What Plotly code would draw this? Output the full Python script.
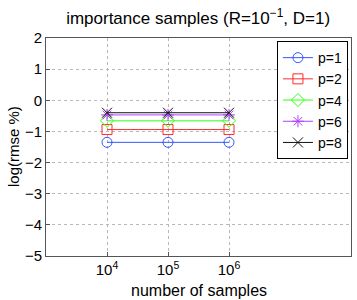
import plotly.graph_objects as go

samples = [1e4, 1e5, 1e6]
series_names = ["p=1", "p=2", "p=4", "p=6", "p=8"]
series_values = [
    [-1.35, -1.35, -1.35],
    [-0.94, -0.94, -0.94],
    [-0.66, -0.66, -0.66],
    [-0.47, -0.47, -0.47],
    [-0.40, -0.40, -0.40],
]
colors = ["#3355ff", "#ff2a2a", "#33ff11", "#b040ff", "#111111"]
symbols = ["circle-open", "square-open", "diamond-open", "asterisk-open", "x-thin-open"]
xtick_vals = [1e4, 1e5, 1e6]
xtick_text = ["10<sup>4</sup>", "10<sup>5</sup>", "10<sup>6</sup>"]
ytick_vals = [2, 1, 0, -1, -2, -3, -4, -5]
ytick_text = ["2", "1", "0", "−1", "−2", "−3", "−4", "−5"]

fig = go.Figure()
for name, vals, c, s in zip(series_names, series_values, colors, symbols):
    fig.add_trace(go.Scatter(
        x=samples, y=vals, name=name, mode="lines+markers",
        line=dict(color=c, width=1),
        marker=dict(symbol=s, size=10, color=c, line=dict(color=c, width=1)),
    ))

font = "Liberation Sans, Arial, sans-serif"
fig.update_layout(
    width=357, height=300,
    margin=dict(l=46, r=6, t=38, b=44),
    paper_bgcolor="white", plot_bgcolor="white",
    font=dict(family=font, size=15, color="black"),
    title=dict(text="importance samples (R=10<sup>−1</sup>, D=1)",
               x=0.555, xanchor="center", y=0.94, yanchor="middle",
               font=dict(size=17)),
    showlegend=True,
    legend=dict(x=0.99, xanchor="right", y=0.986, yanchor="top",
                bgcolor="white", bordercolor="black", borderwidth=1,
                font=dict(size=14), tracegroupgap=0, itemwidth=30),
    xaxis=dict(type="log", range=[3, 8], tickvals=xtick_vals, ticktext=xtick_text,
               showgrid=True, gridcolor="#b8b8b8", griddash="dot", gridwidth=1,
               showline=True, linecolor="#555555", mirror=True,
               ticks="inside", ticklen=4, tickcolor="#555555",
               zeroline=False, tickfont=dict(size=15), automargin=False),
    yaxis=dict(range=[-5, 2], tickvals=ytick_vals, ticktext=ytick_text,
               showgrid=True, gridcolor="#b8b8b8", griddash="dot", gridwidth=1,
               showline=True, linecolor="#555555", mirror=True,
               ticks="inside", ticklen=4, tickcolor="#555555",
               zeroline=False, tickfont=dict(size=15), automargin=False),
    annotations=[
        dict(text="number of samples", xref="paper", yref="paper",
             x=0.5, y=0, yshift=-34, xanchor="center", yanchor="middle",
             showarrow=False, font=dict(size=16)),
        dict(text="log(rmse %)", xref="paper", yref="paper",
             x=0, y=0.5, xshift=-33, xanchor="center", yanchor="middle",
             textangle=-90, showarrow=False, font=dict(size=15)),
    ],
)
fig.write_html("out.html", config={"displayModeBar": False},
               post_script="document.body.style.margin='0';")
